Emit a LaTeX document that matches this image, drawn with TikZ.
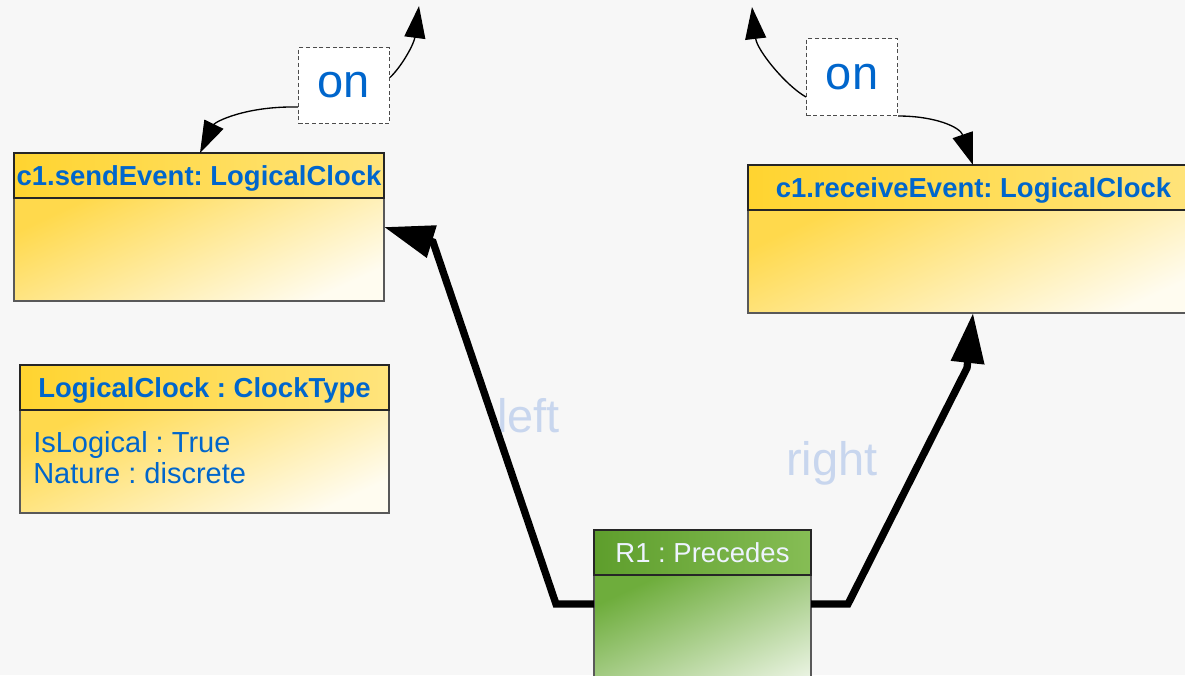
\documentclass[tikz,border=0pt]{standalone}
\usepackage{fontspec}
\setmainfont{Liberation Sans}
\usetikzlibrary{arrows.meta,calc}
\frenchspacing
\definecolor{bg}{HTML}{F7F7F7}
\definecolor{txtblue}{HTML}{0066CC}
\definecolor{lbl}{HTML}{C8D6EE}
\definecolor{gold}{HTML}{FFD430}
\definecolor{goldlt}{HTML}{FFE47C}
\definecolor{bodytl}{HTML}{FFD94C}
\definecolor{bodybr}{HTML}{FFFCF0}
\definecolor{grdk}{HTML}{5E9E2C}
\definecolor{grlt}{HTML}{86BD55}
\definecolor{grbody}{HTML}{6EAD3C}
\definecolor{grbr}{HTML}{F6FAF2}
\definecolor{r1txt}{HTML}{EEF3FF}
\begin{document}
\begin{tikzpicture}[x=0.75pt,y=-0.75pt,
  hdr/.style={draw=black!85, line width=1pt, inner sep=0pt, outer sep=0pt,
    anchor=north west, minimum height=33.75pt, left color=gold, right color=goldlt,
    text height=17pt, text depth=2pt,
    font=\fontsize{20.6}{24}\selectfont\bfseries, text=txtblue},
  bodybox/.style={draw=black!65, line width=1pt, inner sep=0pt, outer sep=0pt,
    anchor=north west, minimum height=77.25pt, top color=bodytl, bottom color=bodybr,
    shading angle=25},
  ghdr/.style={draw=black!85, line width=1pt, inner sep=0pt, outer sep=0pt,
    anchor=north west, minimum height=33.75pt, left color=grdk, right color=grlt,
    text height=17pt, text depth=2pt,
    font=\fontsize{20.6}{24}\selectfont, text=r1txt},
  gbody/.style={draw=black!65, line width=1pt, inner sep=0pt, outer sep=0pt,
    anchor=north west, minimum height=111pt, top color=grbody, bottom color=grbr,
    shading angle=25},
  attr/.style={anchor=base west, inner sep=0pt, font=\fontsize{21.75}{26}\selectfont, text=txtblue},
  onbox/.style={draw=black!70, line width=0.75pt, dash pattern=on 3pt off 2pt, fill=white,
    anchor=north west, inner sep=0pt, minimum width=68.25pt,
    font=\fontsize{35.25}{40}\selectfont, text=txtblue},
  rolelbl/.style={anchor=base west, inner sep=0pt, font=\fontsize{35.25}{40}\selectfont, text=lbl},
  thickarrow/.style={line width=5.5pt, draw=black, -{Triangle[length=37.5pt,width=24pt]}},
  thinarrow/.style={line width=1pt, draw=black, -{Triangle[length=24pt,width=15.75pt]}}
]
\useasboundingbox (0,0) rectangle (1185,675);
\clip (0,0) rectangle (1185,675);
\fill[bg] (0,0) rectangle (1185,675);

% role labels
\node[rolelbl] (leftL) at (497,432) {left};
\node[rolelbl] (rightL) at (786,475) {right};

% class boxes
\node[bodybox, minimum width=277.5pt] (sendB) at (14,198) {};
\node[hdr, minimum width=277.5pt] (sendH) at (14,153) {c1.sendEvent: LogicalClock};

\node[bodybox, minimum width=338.25pt] (recvB) at (748,210) {};
\node[hdr, minimum width=338.25pt] (recvH) at (748,165) {c1.receiveEvent: LogicalClock};

\node[bodybox, minimum width=276.75pt] (typeB) at (20,410) {};
\node[hdr, minimum width=276.75pt] (typeH) at (20,365) {LogicalClock : ClockType};
\node[attr] (a1) at (33,452) {IsLogical : True};
\node[attr] (a2) at (33,483) {Nature : discrete};

\node[gbody, minimum width=162.75pt] (r1B) at (594,575) {};
\node[ghdr, minimum width=162.75pt] (r1H) at (594,530) {R1 : Precedes};

% "on" boxes
\node[onbox, minimum height=57pt] (on1) at (298,47) {on};
\node[onbox, minimum height=57.75pt] (on2) at (806,38) {on};

\coordinate (f1) at (419,6);
\coordinate (f2) at (752,7);

% thick connectors
\draw[thickarrow] ($(r1B.north west)+(0,29)$) -- (556,604) -- (433,242) -- ($(sendB.north east)+(0,29)$);
\draw[thickarrow] ($(r1B.north east)+(0,29)$) -- (848,604) -- (967,368) -- ($(recvB.south west)+(225,0)$);

% thin "on" connectors
\draw[thinarrow] ($(on1.south west)+(0,-17)$) .. controls (245,106) and (215,122) .. ($(sendH.north west)+(186,0)$);
\draw[thinarrow] ($(on1.east)+(0,-8)$) .. controls (402,66) and (414,44) .. (f1);
\draw[thinarrow] ($(on2.west)+(0,20)$) .. controls (785,85) and (757,50) .. (f2);
\draw[thinarrow] (on2.south east) .. controls (935,116) and (960,127) .. ($(recvH.north west)+(225,0)$);
\end{tikzpicture}
\end{document}
